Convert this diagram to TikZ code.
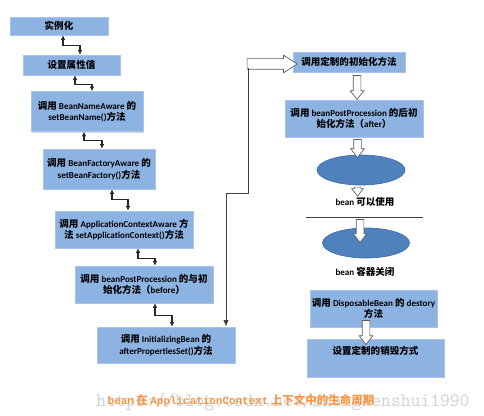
\documentclass[tikz,border=0pt]{standalone}
\usepackage{fontspec}
\setmainfont{Carlito}
\newfontfamily\zh{Noto Sans CJK SC}[Scale=1.05]
\newfontfamily\monofont{Liberation Mono}
\usetikzlibrary{arrows.meta,shapes.geometric,shapes.arrows,shadows,calc}

\newcommand\upx{0.75pt}
\newcommand\kastenschrift{\fontsize{6.8}{8.8}\selectfont\bfseries}
\definecolor{kastenblau}{HTML}{8DB3E2}
\definecolor{kastenrand}{HTML}{A9C4E8}
\definecolor{ovalblau}{HTML}{4F81BD}
\definecolor{ovalrand}{HTML}{3F6EA8}
\definecolor{titelorange}{HTML}{F79646}

\tikzset{
  kasten/.style={rectangle, fill=kastenblau, draw=kastenrand, line width=0.4pt,
    drop shadow={shadow xshift=0.9pt, shadow yshift=-0.9pt, opacity=0.3},
    align=center, font=\kastenschrift, inner sep=1pt},
  oval/.style={ellipse, fill=ovalblau, draw=ovalrand, line width=0.5pt,
    minimum width=88*\upx, minimum height=30*\upx, inner sep=0pt},
  blockpfeil/.style={single arrow, draw=black!65, fill=white, line width=0.5pt,
    inner xsep=0pt, inner ysep=3.5*\upx, single arrow head extend=3*\upx,
    single arrow tip angle=76},
  verbinder/.style={draw=black!85, line width=0.8pt,
    {Latex[length=3.5pt,width=3.5pt]}-{Latex[length=3.5pt,width=3.5pt]}},
  leitung/.style={draw=black!75, line width=0.6pt}
}

\begin{document}
\begin{tikzpicture}[x=0.75pt,y=-0.75pt]
\useasboundingbox (0,0) rectangle (484,416);

% Wasserzeichen:
\node[text=black!18, font=\fontsize{14.3}{15}\selectfont\ttfamily] (wz) at (283,402) {https://blog.csdn.net/zhanghenshui1990};

% linke Spalte:
\node[kasten, minimum width=98*\upx, minimum height=18*\upx] (inst) at (59,26) {{\zh 实例化}};
\node[kasten, minimum width=97*\upx, minimum height=20*\upx] (attr) at (71.5,65) {{\zh 设置属性值}};
\node[kasten, minimum width=112*\upx, minimum height=40*\upx] (bname) at (87,111.5) {{\zh 调用} BeanNameAware {\zh 的}\\setBeanName(){\zh 方法}};
\node[kasten, minimum width=112*\upx, minimum height=40*\upx] (bfact) at (99,169) {{\zh 调用} BeanFactoryAware {\zh 的}\\setBeanFactory(){\zh 方法}};
\node[kasten, minimum width=138*\upx, minimum height=37*\upx] (appctx) at (124,229.5) {{\zh 调用} ApplicationContextAware {\zh 方}\\{\zh 法} setApplicationContext(){\zh 方法}};
\node[kasten, minimum width=138*\upx, minimum height=37*\upx] (vorher) at (144,284.5) {{\zh 调用} beanPostProcession {\zh 的与初}\\{\zh 始化方法（}before{\zh ）}};
\node[kasten, minimum width=138*\upx, minimum height=36*\upx] (initb) at (166,345) {{\zh 调用} InitializingBean {\zh 的}\\afterPropertiesSet(){\zh 方法}};

% Verbinder links:
\draw[verbinder] ($(inst.south)+(4,0)$) -- ++(0,10) -| ($(attr.north)+(8.5,0)$);
\draw[verbinder] ($(attr.south)+(3.5,0)$) -- ++(0,9) -| ($(bname.north)+(5,0)$);
\draw[verbinder] ($(bname.south)+(-3,0)$) -- ++(0,9) -| ($(bfact.north)+(3,0)$);
\draw[verbinder] ($(bfact.south)+(13,0)$) -- ++(0,10) -| ($(appctx.north)+(4,0)$);
\draw[verbinder] ($(appctx.south)+(14,0)$) -- ++(0,10) -| ($(vorher.north)+(11,0)$);
\draw[verbinder] ($(vorher.south)+(11,0)$) -- ++(0,12) -| ($(initb.north)+(6,0)$);

% rechte Spalte:
\node[kasten, minimum width=112*\upx, minimum height=20*\upx] (eigen) at (349,62) {{\zh 调用定制的初始化方法}};
\node[kasten, minimum width=138*\upx, minimum height=37*\upx] (nachher) at (354,118.5) {{\zh 调用} beanPostProcession {\zh 的后初}\\{\zh 始化方法（}after{\zh ）}};
\node[oval] (nutzbar) at (361,170) {};
\node[font=\kastenschrift] (nutztext) at (365,202) {bean {\zh 可以使用}};
\draw[leitung] (306,217) -- (423,217); % Trennlinie
\node[oval, minimum width=87*\upx] (zu) at (366,243) {};
\node[font=\kastenschrift] (zutext) at (365,272) {bean {\zh 容器关闭}};
\node[kasten, minimum width=127*\upx, minimum height=37*\upx] (dispo) at (373.5,308.5) {{\zh 调用} DisposableBean {\zh 的} destory\\{\zh 方法}};
\node[kasten, minimum width=137*\upx, minimum height=38*\upx,
  label={[font=\kastenschrift, anchor=north, yshift=-2pt]north:{\zh 设置定制的销毁方式}}] (zerst) at (375.5,358) {};

% Blockpfeile:
\node[blockpfeil, minimum height=50*\upx, inner ysep=5*\upx, single arrow head extend=3.5*\upx, single arrow tip angle=66] (rpfeil) at (268,64) {};
\node[blockpfeil, rotate=-90, minimum height=24*\upx] (p1) at (357,85) {};
\node[blockpfeil, rotate=-90, minimum height=18*\upx] (p2) at (357.5,146) {};
\node[blockpfeil, rotate=-90, minimum height=9*\upx, inner ysep=3*\upx, single arrow head extend=2.5*\upx] (p3) at (357.5,189.5) {};
\node[blockpfeil, rotate=-90, minimum height=23*\upx] (p4) at (360,228.5) {};
\node[blockpfeil, rotate=-90, minimum height=24*\upx] (p5) at (366,330) {};

% langer Verbinder:
\draw[leitung, -{Latex[length=5pt,width=4pt]}] ($(rpfeil.tail)+(2,4)$) -- ++(0,125) -| ($(initb.north)+(60,0)$);

% Unterschrift:
\node[text=titelorange, font=\fontsize{8.2}{10}\selectfont\bfseries] (titel) at (241,401)
  {{\monofont bean} {\zh 在} {\monofont ApplicationContext} {\zh 上下文中的生命周期}};
\end{tikzpicture}
\end{document}
